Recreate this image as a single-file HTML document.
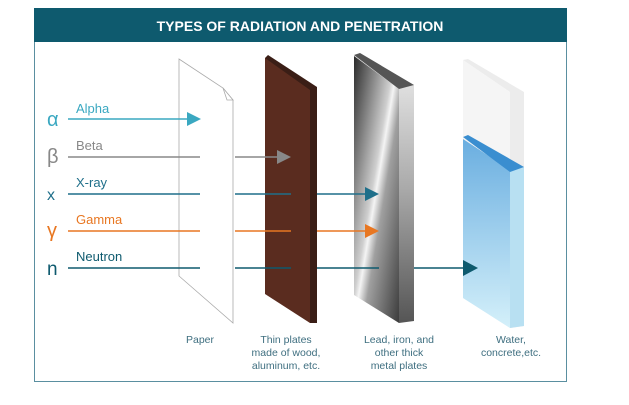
<!DOCTYPE html><html><head><style>body{margin:0;background:#fff}svg text{font-family:"Liberation Sans",sans-serif}</style></head><body>
<svg width="629" height="400" viewBox="0 0 629 400" xmlns="http://www.w3.org/2000/svg">
<defs>
<linearGradient id="m" x1="0" y1="0" x2="1" y2="1"><stop offset="0" stop-color="#2a2a2a"/><stop offset="0.45" stop-color="#cfcfcf"/><stop offset="0.5" stop-color="#f4f4f4"/><stop offset="0.6" stop-color="#a0a0a0"/><stop offset="1" stop-color="#3c3c3c"/></linearGradient>
<linearGradient id="ms" x1="0" y1="0" x2="0" y2="1"><stop offset="0" stop-color="#f0f0f0"/><stop offset="0.5" stop-color="#aaa"/><stop offset="1" stop-color="#555"/></linearGradient>
<linearGradient id="w" x1="0" y1="0" x2="0" y2="1"><stop offset="0" stop-color="#6aaee0"/><stop offset="1" stop-color="#d4f0fa"/></linearGradient>
</defs>
<rect x="34.5" y="8.5" width="532" height="373" fill="#fff" stroke="#5a8fa0"/>
<rect x="34" y="8" width="533" height="34" fill="#0e5a6e"/>
<text x="300" y="31" text-anchor="middle" fill="#fff" font-size="14" font-weight="bold">TYPES OF RADIATION AND PENETRATION</text>
<!-- paper -->
<polygon points="179,59 223,88 233,100 233,323 179,276" fill="#fff" stroke="#aaa" stroke-width="0.8"/>
<polygon points="223,88 227,100 233,100" fill="#fff" stroke="#aaa" stroke-width="0.8"/>
<!-- wood -->
<polygon points="265,58 268,55 317,87 317,323 310,323" fill="#3a1e16"/>
<polygon points="265,58 310,90 310,323 265,294" fill="#5a2c1f"/>
<!-- metal -->
<polygon points="354,56 360,53 414,85 414,321 399,323 399,89" fill="url(#ms)"/>
<polygon points="354,56 399,89 399,323 354,295" fill="url(#m)"/>
<polygon points="354,55 360,53 414,85 399,89" fill="#555"/>
<!-- water -->
<polygon points="463,60 468,59 524,92 524,326 510,328 510,92" fill="#ececec"/>
<polygon points="463,60 510,92 510,328 463,298" fill="#f5f5f5"/>
<polygon points="463,139 510,170 510,328 463,298" fill="url(#w)"/>
<polygon points="510,170 524,167 524,326 510,328" fill="#b8e0f2"/>
<polygon points="463,137 468,135 524,167 510,172" fill="#3a8ed0"/>
<!-- rays -->
<g font-size="13">
<text x="47" y="126" fill="#3aa8c1" font-size="20" font-family="DejaVu Serif,serif">α</text>
<text x="76" y="113" fill="#3aa8c1">Alpha</text>
<line x1="68" y1="119" x2="188" y2="119" stroke="#3aa8c1" stroke-width="1.5"/>
<polygon points="187,112 201,119 187,126" fill="#3aa8c1"/>
<text x="47" y="163" fill="#888" font-size="20" font-family="DejaVu Serif,serif">β</text>
<text x="76" y="150" fill="#888">Beta</text>
<line x1="68" y1="157" x2="200" y2="157" stroke="#888" stroke-width="1.5"/>
<line x1="235" y1="157" x2="278" y2="157" stroke="#888" stroke-width="1.5"/>
<polygon points="277,150 291,157 277,164" fill="#888"/>
<text x="47" y="200" fill="#1f6f8a" font-size="16">x</text>
<text x="76" y="187" fill="#1f6f8a">X-ray</text>
<line x1="68" y1="194" x2="200" y2="194" stroke="#1f6f8a" stroke-width="1.5"/>
<line x1="235" y1="194" x2="291" y2="194" stroke="#1f6f8a" stroke-width="1.5"/>
<line x1="317" y1="194" x2="367" y2="194" stroke="#1f6f8a" stroke-width="1.5"/>
<polygon points="365,187 379,194 365,201" fill="#1f6f8a"/>
<text x="47" y="237" fill="#e87722" font-size="20" font-family="DejaVu Serif,serif">γ</text>
<text x="76" y="224" fill="#e87722">Gamma</text>
<line x1="68" y1="231" x2="200" y2="231" stroke="#e87722" stroke-width="1.5"/>
<line x1="235" y1="231" x2="291" y2="231" stroke="#e87722" stroke-width="1.5"/>
<line x1="317" y1="231" x2="367" y2="231" stroke="#e87722" stroke-width="1.5"/>
<polygon points="365,224 379,231 365,238" fill="#e87722"/>
<text x="47" y="275" fill="#0e5a6e" font-size="19">n</text>
<text x="76" y="261" fill="#0e5a6e">Neutron</text>
<line x1="68" y1="268" x2="200" y2="268" stroke="#0e5a6e" stroke-width="1.5"/>
<line x1="235" y1="268" x2="291" y2="268" stroke="#0e5a6e" stroke-width="1.5"/>
<line x1="317" y1="268" x2="379" y2="268" stroke="#0e5a6e" stroke-width="1.5"/>
<line x1="414" y1="268" x2="466" y2="268" stroke="#0e5a6e" stroke-width="1.5"/>
<polygon points="463,260 478,268 463,276" fill="#0e5a6e"/>
</g>
<g font-size="10.5" fill="#3f6f80" text-anchor="middle">
<text x="200" y="343">Paper</text>
<text x="286" y="343">Thin plates</text><text x="286" y="356">made of wood,</text><text x="286" y="369">aluminum, etc.</text>
<text x="399" y="343">Lead, iron, and</text><text x="399" y="356">other thick</text><text x="399" y="369">metal plates</text>
<text x="511" y="343">Water,</text><text x="511" y="356">concrete,etc.</text>
</g>
</svg></body></html>
